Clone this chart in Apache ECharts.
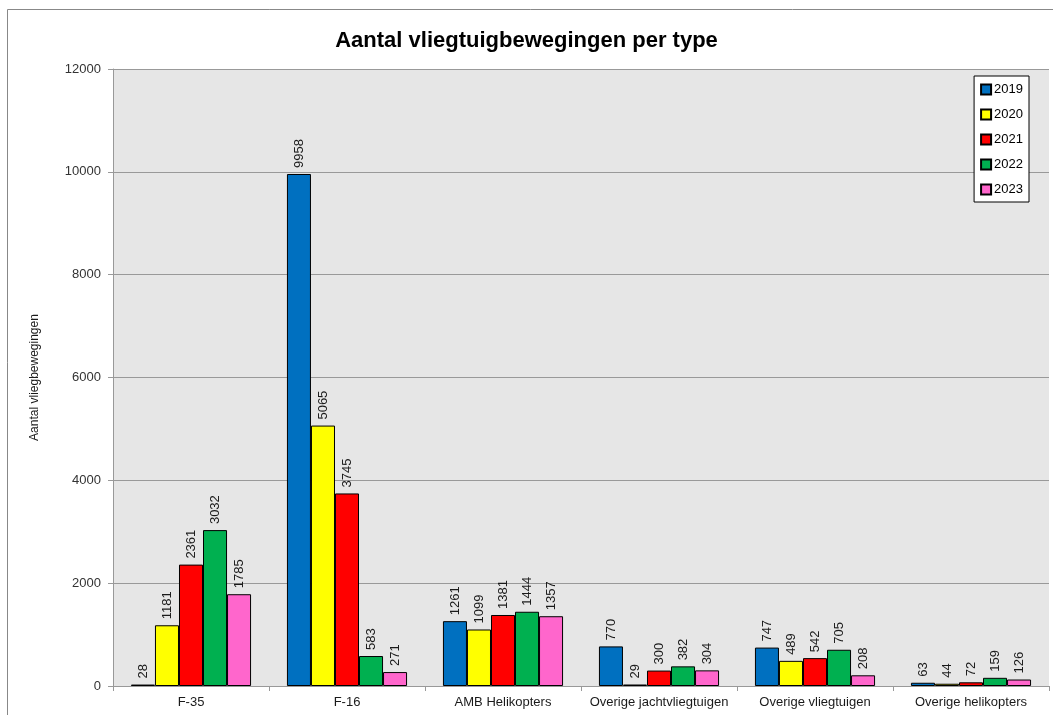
<!DOCTYPE html>
<html>
<head>
<meta charset="utf-8">
<script src="https://cdn.jsdelivr.net/npm/echarts@6/dist/echarts.min.js"></script>
<style>
  html, body { margin: 0; padding: 0; background: #fff; }
  #main { width: 1053px; height: 715px; }
</style>
</head>
<body>
<div id="main"></div>
<script>
var categories = ['F-35', 'F-16', 'AMB Helikopters', 'Overige jachtvliegtuigen', 'Overige vliegtuigen', 'Overige helikopters'];
var years = ['2019', '2020', '2021', '2022', '2023'];
var values2019 = [28, 9958, 1261, 770, 747, 63];
var values2020 = [1181, 5065, 1099, 29, 489, 44];
var values2021 = [2361, 3745, 1381, 300, 542, 72];
var values2022 = [3032, 583, 1444, 382, 705, 159];
var values2023 = [1785, 271, 1357, 304, 208, 126];
var colors = ['#0070c0', '#ffff00', '#ff0000', '#00b050', '#ff66cc'];

var allValues = [values2019, values2020, values2021, values2022, values2023];
var font = 'Liberation Sans, Arial, sans-serif';

var chartDom = document.getElementById('main');
var myChart = echarts.init(chartDom, null, { renderer: 'canvas' });

var series = years.map(function (y, i) {
    return {
        name: y,
        type: 'bar',
        data: allValues[i],
        barGap: '0%',
        barCategoryGap: '23%',
        itemStyle: {
            color: colors[i],
            borderColor: '#000',
            borderWidth: 1
        },
        label: {
            show: true,
            position: 'top',
            rotate: 90,
            align: 'left',
            verticalAlign: 'middle',
            distance: 6,
            fontSize: 13,
            fontFamily: font,
            color: '#1a1a1a'
        }
    };
});

var option = {
    animation: false,
    backgroundColor: '#fff',
    title: {
        text: 'Aantal vliegtuigbewegingen per type',
        left: 'center',
        top: 25,
        textStyle: {
            fontSize: 22,
            fontWeight: 'bold',
            fontFamily: font,
            color: '#000'
        }
    },
    graphic: [{
        type: 'rect',
        shape: { x: 7.5, y: 9.5, width: 1060, height: 720 },
        style: { fill: 'none', stroke: '#888', lineWidth: 1 },
        silent: true,
        z: -1
    }],
    legend: {
        orient: 'vertical',
        right: 24,
        top: 76,
        itemWidth: 10,
        itemHeight: 10,
        itemGap: 12,
        padding: [7, 6, 6, 6],
        backgroundColor: '#fff',
        borderColor: '#000',
        borderWidth: 1,
        icon: 'rect',
        textStyle: { fontSize: 13, fontFamily: font, color: '#000', padding: [0, 0, 0, -2] },
        data: years
    },
    grid: {
        left: 113,
        right: 4,
        top: 69,
        bottom: 29,
        show: true,
        backgroundColor: '#e6e6e6',
        borderWidth: 0
    },
    xAxis: {
        type: 'category',
        data: categories,
        axisLine: { lineStyle: { color: '#999', width: 1 } },
        axisTick: { show: true, length: 5, lineStyle: { color: '#999' } },
        axisLabel: { interval: 0, fontSize: 13, fontFamily: font, color: '#1a1a1a', margin: 10 }
    },
    yAxis: {
        type: 'value',
        min: 0,
        max: 12000,
        interval: 2000,
        name: 'Aantal vliegbewegingen',
        nameLocation: 'middle',
        nameGap: 72,
        nameTextStyle: { fontSize: 12, fontFamily: font, color: '#1a1a1a' },
        axisLine: { show: true, lineStyle: { color: '#999' } },
        axisTick: { show: true, length: 5, lineStyle: { color: '#999' } },
        axisLabel: {
            fontSize: 13,
            fontFamily: font,
            color: '#333',
            margin: 12,
            formatter: function (v) { return String(v); }
        },
        splitLine: { lineStyle: { color: '#999', width: 1 } }
    },
    series: series
};

option && myChart.setOption(option);
</script>
</body>
</html>
